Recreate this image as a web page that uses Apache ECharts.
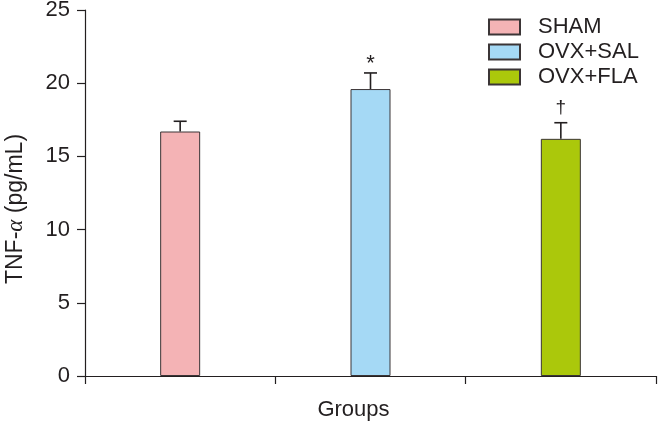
<!DOCTYPE html>
<html>
<head>
<meta charset="utf-8">
<script src="https://cdn.jsdelivr.net/npm/echarts@6/dist/echarts.min.js"></script>
<style>
  html, body { margin: 0; padding: 0; background: #fff; }
  #chart { width: 658px; height: 422px; }
</style>
</head>
<body>
<div id="chart"></div>
<script>
// groups and values
var groups = ['SHAM', 'OVX+SAL', 'OVX+FLA'];
var means = [16.7, 19.6, 16.2];
var errors = [0.7, 1.1, 1.1];
var marks = ['', '*', '\u2020'];
var colors = ['#f4b3b5', '#a5d9f5', '#abc80b'];
var yTicks = [0, 5, 10, 15, 20, 25];

var font = '"Liberation Sans", Arial, sans-serif';
var ink = '#231f20';

// one bar series per group so the legend gets three entries
var barSeries = groups.map(function(name, i) {
    var data = groups.map(function(g, j) {
        return j == i ? means[i] : '-';
    });
    return {
        name: name,
        type: 'bar',
        data: data,
        barWidth: 40,
        barGap: '-100%',
        itemStyle: {
            color: colors[i],
            borderColor: '#3b3536',
            borderWidth: 1
        },
        silent: true
    };
});

// error bars + significance marks
var errData = groups.map(function(g, i) {
    return [i, means[i], means[i] + errors[i], marks[i]];
});

var errorSeries = {
    type: 'custom',
    name: 'err',
    silent: true,
    z: 5,
    renderItem: function(params, api) {
        var base = api.coord([api.value(0), api.value(1)]);
        var top = api.coord([api.value(0), api.value(2)]);
        var half = 6.5;
        var children = [{
            type: 'line',
            shape: { x1: base[0], y1: base[1], x2: top[0], y2: top[1] },
            style: { stroke: ink, lineWidth: 1.6 }
        }, {
            type: 'line',
            shape: { x1: top[0] - half, y1: top[1], x2: top[0] + half, y2: top[1] },
            style: { stroke: ink, lineWidth: 1.6 }
        }];
        var mark = errData[params.dataIndex][3];
        if (mark) {
            var star = mark == '*';
            children.push({
                type: 'text',
                x: top[0],
                y: top[1] + (star ? 2 : -5),
                style: {
                    text: mark,
                    fontSize: star ? 22 : 19,
                    fontFamily: font,
                    fill: ink,
                    align: 'center',
                    verticalAlign: 'bottom'
                }
            });
        }
        return { type: 'group', children: children };
    },
    data: errData
};

var chart = echarts.init(document.getElementById('chart'));
chart.setOption({
    animation: false,
    textStyle: { fontFamily: font },
    grid: { left: 85, right: 2, top: 10, bottom: 46, outerBoundsMode: 'none', containLabel: false },
    legend: {
        data: groups,
        orient: 'vertical',
        left: 483,
        top: 11,
        itemWidth: 31,
        itemHeight: 15,
        itemGap: 3,
        icon: 'rect',
        textStyle: { fontSize: 22, color: ink, fontFamily: font, padding: [0, 0, 0, 13] }
    },
    xAxis: {
        type: 'category',
        data: groups,
        boundaryGap: true,
        name: 'Groups',
        nameLocation: 'middle',
        nameGap: 23,
        nameTextStyle: { fontSize: 22, color: ink, padding: [0, 34, 0, 0] },
        axisLine: { lineStyle: { color: ink, width: 1.2 } },
        axisTick: { show: true, length: 8, lineStyle: { color: ink, width: 1.2 } },
        axisLabel: { show: false },
        splitLine: { show: false }
    },
    yAxis: {
        type: 'value',
        min: yTicks[0],
        max: yTicks[yTicks.length - 1],
        interval: yTicks[1] - yTicks[0],
        name: 'TNF-{a|\u03b1} (pg/mL)',
        nameLocation: 'middle',
        nameGap: 58,
        nameRotate: 90,
        nameTextStyle: {
            fontSize: 23,
            color: ink,
            padding: [0, 32, 0, 0],
            rich: { a: { fontSize: 23, color: ink, fontFamily: '"Liberation Serif", serif', fontStyle: 'italic' } }
        },
        axisLine: { show: true, lineStyle: { color: ink, width: 1.2 } },
        axisTick: { show: true, length: 8, lineStyle: { color: ink, width: 1.2 } },
        axisLabel: { fontSize: 22, color: ink, margin: 15 },
        splitLine: { show: false }
    },
    series: barSeries.concat([errorSeries])
});
</script>
</body>
</html>
